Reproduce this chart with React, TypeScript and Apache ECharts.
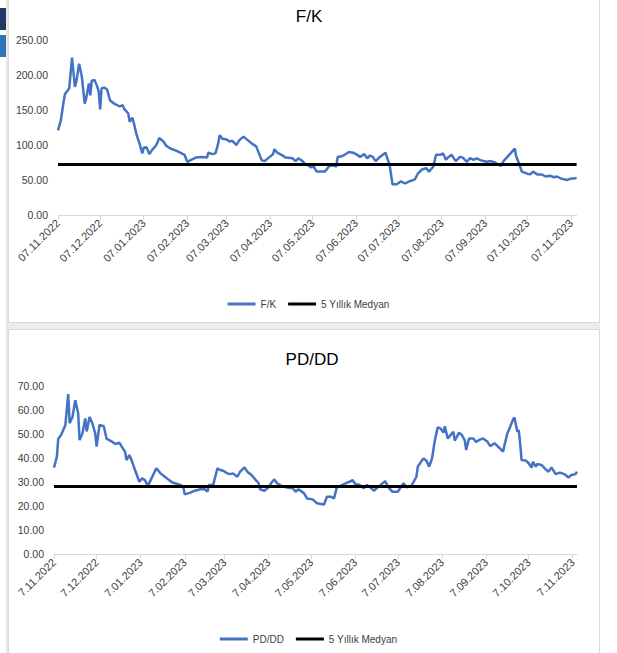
import React, { useEffect, useRef } from "react";
import * as echarts from "echarts";

// Days counted from 07.11.2022
const tickDays = [0, 30, 61, 92, 120, 151, 181, 212, 242, 273, 304, 334, 365];
const fkTickLabels = ["07.11.2022", "07.12.2022", "07.01.2023", "07.02.2023", "07.03.2023", "07.04.2023", "07.05.2023", "07.06.2023", "07.07.2023", "07.08.2023", "07.09.2023", "07.10.2023", "07.11.2023"];
const pdTickLabels = ["7.11.2022", "7.12.2022", "7.01.2023", "7.02.2023", "7.03.2023", "7.04.2023", "7.05.2023", "7.06.2023", "7.07.2023", "7.08.2023", "7.09.2023", "7.10.2023", "7.11.2023"];

const fkDays = [0, 2, 4, 5, 8, 10, 12, 13, 15, 17, 19, 20, 22, 23, 24, 26, 28, 29, 30, 31, 33, 35, 37, 40, 44, 46, 47, 50, 51, 52, 53, 54, 56, 58, 60, 61, 63, 65, 67, 70, 72, 75, 77, 80, 84, 88, 90, 92, 95, 98, 102, 106, 107, 110, 112, 114, 115, 117, 120, 122, 124, 127, 129, 132, 135, 138, 141, 143, 145, 147, 150, 153, 154, 156, 159, 162, 167, 169, 171, 174, 176, 178, 180, 182, 184, 187, 190, 193, 196, 198, 199, 202, 204, 207, 210, 212, 215, 218, 220, 222, 224, 226, 229, 233, 236, 238, 241, 244, 247, 250, 254, 256, 259, 262, 264, 267, 269, 272, 274, 276, 278, 280, 283, 286, 288, 291, 293, 296, 298, 301, 305, 308, 311, 315, 317, 322, 325, 326, 328, 330, 334, 336, 338, 341, 344, 347, 350, 353, 355, 358, 362, 365, 367, 369];
const fkValues = [121, 135, 162, 173, 181, 225, 183, 190, 216, 197, 159, 166, 188, 171, 192, 193, 183, 176, 151, 181, 182, 179, 164, 159, 155, 157, 152, 145, 133, 136, 139, 131, 114, 102, 88, 96, 97, 87, 93, 100, 110, 105, 99, 95, 92, 88, 86, 76, 79, 82, 83, 82, 89, 87, 88, 102, 114, 109, 108, 105, 106, 100, 107, 112, 107, 102, 98, 88, 78, 77, 82, 87, 94, 89, 86, 82, 81, 77, 81, 77, 72, 71, 68, 69, 62, 62, 62, 70, 71, 69, 83, 84, 86, 90, 89, 87, 83, 87, 81, 85, 83, 77, 83, 89, 71, 44, 44, 48, 45, 48, 51, 59, 65, 67, 62, 69, 86, 86, 88, 79, 83, 86, 77, 83, 82, 76, 81, 79, 81, 78, 76, 77, 75, 70, 77, 88, 95, 84, 74, 62, 59, 58, 62, 58, 58, 55, 56, 54, 55, 52, 50, 52, 52, 53];
const fkMedian = 72;
const fkLastDay = 369;

const pdDays = [0, 2, 3, 5, 8, 10, 11, 13, 15, 17, 18, 20, 22, 23, 25, 27, 29, 30, 32, 35, 37, 41, 43, 46, 48, 50, 51, 53, 55, 57, 59, 60, 62, 64, 66, 68, 72, 75, 78, 81, 83, 85, 89, 91, 92, 96, 99, 103, 106, 108, 109, 112, 115, 117, 119, 122, 124, 126, 129, 131, 134, 136, 139, 142, 144, 145, 148, 151, 153, 155, 157, 160, 164, 168, 170, 172, 176, 178, 182, 185, 188, 190, 192, 195, 197, 199, 203, 206, 208, 210, 212, 215, 218, 220, 222, 225, 229, 233, 235, 238, 242, 243, 246, 248, 251, 253, 255, 256, 259, 260, 262, 264, 266, 268, 270, 272, 274, 275, 277, 279, 281, 282, 285, 287, 289, 290, 292, 295, 297, 300, 302, 305, 307, 310, 313, 316, 317, 319, 321, 323, 324, 326, 327, 328, 329, 332, 334, 336, 337, 339, 340, 343, 346, 348, 350, 353, 356, 359, 362, 364, 367, 368];
const pdValues = [36, 40.5, 48, 49.5, 53.7, 66.5, 54.4, 57, 64, 58.5, 47.4, 50.2, 56.4, 51, 57, 54.4, 50.2, 44.7, 53.7, 53.2, 48, 46.7, 45.8, 46.3, 44.4, 42.6, 39.1, 41.2, 38.4, 35, 31.8, 30.1, 31.5, 30.8, 28.4, 30.8, 35.7, 33.6, 32.2, 30.8, 29.9, 29.5, 28.8, 27.8, 24.9, 25.6, 26.4, 27, 27.1, 26, 28.8, 28.8, 35.7, 35, 34.7, 33.6, 33.3, 33.6, 32.2, 34.3, 36.1, 34.3, 32.9, 30.8, 29.5, 27, 26.4, 27.8, 29.7, 31.1, 29.5, 28.4, 27.7, 27.4, 26, 27, 25.3, 23.2, 22.8, 21.2, 20.9, 20.7, 23.9, 23.9, 23.2, 27.8, 28.8, 29.7, 30.1, 30.8, 29.2, 28.8, 27.4, 28.8, 28.1, 26.4, 28.4, 30.4, 28.1, 26, 26, 27, 29.5, 27.8, 28.1, 30.1, 32.2, 36.4, 39.1, 39.8, 38.9, 36.4, 39.8, 47.4, 52.7, 52.3, 50.5, 53.2, 48.1, 49.5, 50.9, 47.2, 50.5, 49.5, 47.4, 43.3, 48.1, 48.1, 46.7, 47.7, 48.1, 46.7, 44.9, 46.1, 44.4, 42.6, 45.4, 50.2, 53, 56, 56.8, 50.9, 51.6, 46, 39.1, 38.9, 37.8, 36, 38.4, 36.4, 37.5, 37.1, 35.3, 34.3, 36.1, 33.3, 33.9, 33.3, 31.9, 32.9, 33.3, 34.3];
const pdMedian = 28.2;
const pdLastDay = 368;

const FONT = "Liberation Sans, Arial, sans-serif";
const TXT = "#404040";
const AXIS = "#d9d9d9";
const BLUE = "#4472C4";

function xAxisFor(gridIndex: number, max: number, labels: string[]) {
  return {
    type: "value",
    gridIndex,
    min: 0,
    max,
    axisLine: { show: true, lineStyle: { color: AXIS, width: 1 } },
    axisTick: { show: true, customValues: tickDays, length: 5, lineStyle: { color: AXIS } },
    axisLabel: {
      customValues: tickDays,
      rotate: 45,
      margin: 6,
      fontSize: 11,
      color: TXT,
      fontFamily: FONT,
      formatter: (v: number) => {
        const i = tickDays.indexOf(Math.round(v));
        return i >= 0 ? labels[i] : "";
      },
    },
    splitLine: { show: false },
  };
}

function yAxisFor(gridIndex: number, max: number, interval: number) {
  return {
    type: "value",
    gridIndex,
    min: 0,
    max,
    interval,
    axisLine: { show: false },
    axisTick: { show: false },
    splitLine: { show: false },
    axisLabel: {
      fontSize: 10.5,
      color: TXT,
      fontFamily: FONT,
      margin: 10,
      formatter: (v: number) => v.toFixed(2),
    },
  };
}

export default function App() {
  const ref = useRef<HTMLDivElement>(null);
  useEffect(() => {
    if (!ref.current) return;
    const chart = echarts.init(ref.current, null, { renderer: "svg" });
    const fkData = fkDays.map((d, i) => [d, fkValues[i]]);
    const pdData = pdDays.map((d, i) => [d, pdValues[i]]);
    const option: any = {
      animation: false,
      backgroundColor: "#ffffff",
      textStyle: { fontFamily: FONT },
      title: [
        { text: "F/K", left: 304, top: 3, textAlign: "center", textStyle: { fontSize: 17, fontWeight: "normal", color: "#000", fontFamily: FONT } },
        { text: "PD/DD", left: 307, top: 346, textAlign: "center", textStyle: { fontSize: 17, fontWeight: "normal", color: "#000", fontFamily: FONT } },
      ],
      legend: [
        {
          top: 294, left: "center", itemWidth: 28, itemHeight: 3, itemGap: 12,
          icon: "rect",
          textStyle: { fontSize: 10, color: TXT, fontFamily: FONT },
          data: ["F/K", "5 Yıllık Medyan"],
        },
        {
          top: 629, left: "center", itemWidth: 28, itemHeight: 3, itemGap: 12,
          icon: "rect",
          textStyle: { fontSize: 10, color: TXT, fontFamily: FONT },
          data: ["PD/DD", { name: "5 Yıllık Medyan " }],
          formatter: (n: string) => n.trim(),
        },
      ],
      grid: [
        { left: 58, top: 40, width: 518.6, height: 175 },
        { left: 54, top: 385.7, width: 523, height: 168.6 },
      ],
      xAxis: [xAxisFor(0, fkLastDay, fkTickLabels), xAxisFor(1, pdLastDay, pdTickLabels)],
      yAxis: [yAxisFor(0, 250, 50), yAxisFor(1, 70, 10)],
      series: [
        {
          name: "F/K", type: "line", xAxisIndex: 0, yAxisIndex: 0, data: fkData,
          showSymbol: false, symbol: "none", lineStyle: { color: BLUE, width: 2.5 }, itemStyle: { color: BLUE }, z: 3,
        },
        {
          name: "5 Yıllık Medyan", type: "line", xAxisIndex: 0, yAxisIndex: 0,
          data: [[0, fkMedian], [fkLastDay, fkMedian]],
          showSymbol: false, symbol: "none", lineStyle: { color: "#000", width: 3 }, itemStyle: { color: "#000" }, z: 4,
        },
        {
          name: "PD/DD", type: "line", xAxisIndex: 1, yAxisIndex: 1, data: pdData,
          showSymbol: false, symbol: "none", lineStyle: { color: BLUE, width: 2.5 }, itemStyle: { color: BLUE }, z: 3,
        },
        {
          name: "5 Yıllık Medyan ", type: "line", xAxisIndex: 1, yAxisIndex: 1,
          data: [[0, pdMedian], [pdLastDay, pdMedian]],
          showSymbol: false, symbol: "none", lineStyle: { color: "#000", width: 3 }, itemStyle: { color: "#000" }, z: 4,
        },
      ],
      graphic: [
        { type: "rect", z: -10, shape: { x: 8, y: 323, width: 592, height: 6 }, style: { fill: "#ececec" } },
        { type: "rect", z: -9, shape: { x: 8.5, y: -2, width: 591, height: 324.5 }, style: { fill: "#fff", stroke: "#d9d9d9", lineWidth: 1 } },
        { type: "rect", z: -9, shape: { x: 8.5, y: 329.5, width: 591, height: 330 }, style: { fill: "#fff", stroke: "#d9d9d9", lineWidth: 1 } },
        { type: "rect", z: -8, shape: { x: 0, y: 8, width: 6, height: 22 }, style: { fill: "#1f3864" } },
        { type: "rect", z: -8, shape: { x: 0, y: 35, width: 6, height: 22 }, style: { fill: "#2e75b6" } },
        { type: "line", z: -8, shape: { x1: 7, y1: 0, x2: 7, y2: 653 }, style: { stroke: "#d0d0d0", lineWidth: 1 } },
      ],
    };
    chart.setOption(option);
    return () => chart.dispose();
  }, []);
  return <div ref={ref} style={{ position: "fixed", left: 0, top: 0, width: 617, height: 653 }} />;
}
